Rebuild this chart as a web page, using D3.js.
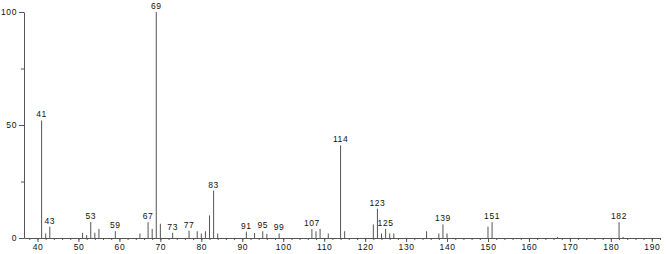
<!DOCTYPE html>
<html lang="en">
<head>
<meta charset="UTF-8">
<title>Mass spectrum</title>
<script src="https://cdn.jsdelivr.net/npm/d3@7"></script>
<style>
  body { margin: 0; background: #fff; }
  text { font-family: "Liberation Sans", sans-serif; font-size: 8.5px; fill: #111; letter-spacing: 0.6px; }
  .axis path, .axis line { stroke: #555; }
</style>
</head>
<body>
<svg width="666" height="254"></svg>
<script>
  // peaks (m/z, relative intensity %)
  var mz = [41, 42, 43, 51, 52, 53, 54, 55, 59, 65, 67, 68, 69, 70, 73, 77, 79, 80, 81, 82, 83, 84,
            91, 93, 95, 96, 99, 107, 108, 109, 111, 114, 115, 122, 123, 124, 125, 126, 127,
            135, 138, 139, 140, 150, 151, 167, 182, 183];
  var intensity = [52, 2, 5, 2.3, 1.3, 7, 2.3, 4, 3, 2, 7, 4, 100, 6.3, 2.3, 3.2, 3, 2, 3, 10, 21, 2,
                   2.8, 2.2, 3, 1.8, 2, 4, 3, 4, 2, 41, 3, 6, 13, 2, 4, 2, 2,
                   3, 2, 6, 2, 5, 7, 0.5, 7, 0.5];
  var peakLabels = [41, 43, 53, 59, 67, 69, 73, 77, 83, 91, 95, 99, 107, 114, 123, 125, 139, 151, 182];
  var xTicks = [40, 50, 60, 70, 80, 90, 100, 110, 120, 130, 140, 150, 160, 170, 180, 190];
  var xMinor = d3.range(38, 193, 2);
  var yTicks = [0, 50, 100];
  var yMinor = [25, 75];

  var svg = d3.select("svg");

  var x = d3.scaleLinear().domain([36.7, 192]).range([24, 660]);
  var y = d3.scaleLinear().domain([0, 100]).range([238, 12]);

  var peaks = mz.map((m, i) => ({ mz: m, v: intensity[i] }));

  // minor ticks first
  svg.append("g")
    .attr("class", "axis")
    .attr("transform", "translate(0,238)")
    .call(d3.axisBottom(x).tickValues(xMinor).tickSize(2).tickSizeOuter(0).tickFormat(""))
    .call(g => g.select(".domain").remove());

  svg.append("g")
    .attr("class", "axis")
    .attr("transform", "translate(0,238)")
    .call(d3.axisBottom(x).tickValues(xTicks).tickSize(4).tickSizeOuter(0).tickPadding(2));

  svg.append("g")
    .attr("class", "axis")
    .attr("transform", "translate(24,0)")
    .call(d3.axisLeft(y).tickValues(yMinor).tickSize(3).tickSizeOuter(0).tickFormat(""))
    .call(g => g.select(".domain").remove());

  svg.append("g")
    .attr("class", "axis")
    .attr("transform", "translate(24,0)")
    .call(d3.axisLeft(y).tickValues(yTicks).tickSize(5).tickSizeOuter(0).tickPadding(2));

  svg.selectAll(".axis text").attr("font-family", null).attr("font-size", null);

  svg.append("g")
    .selectAll("line")
    .data(peaks)
    .enter()
    .append("line")
    .attr("x1", d => x(d.mz))
    .attr("x2", d => x(d.mz))
    .attr("y1", y(0))
    .attr("y2", d => y(d.v))
    .attr("stroke", "#555")
    .attr("stroke-width", 1);

  svg.append("g")
    .selectAll("text")
    .data(peaks.filter(d => peakLabels.includes(d.mz)))
    .enter()
    .append("text")
    .attr("x", d => x(d.mz))
    .attr("y", d => y(d.v) - 3)
    .attr("text-anchor", "middle")
    .text(d => d.mz);
</script>
</body>
</html>
